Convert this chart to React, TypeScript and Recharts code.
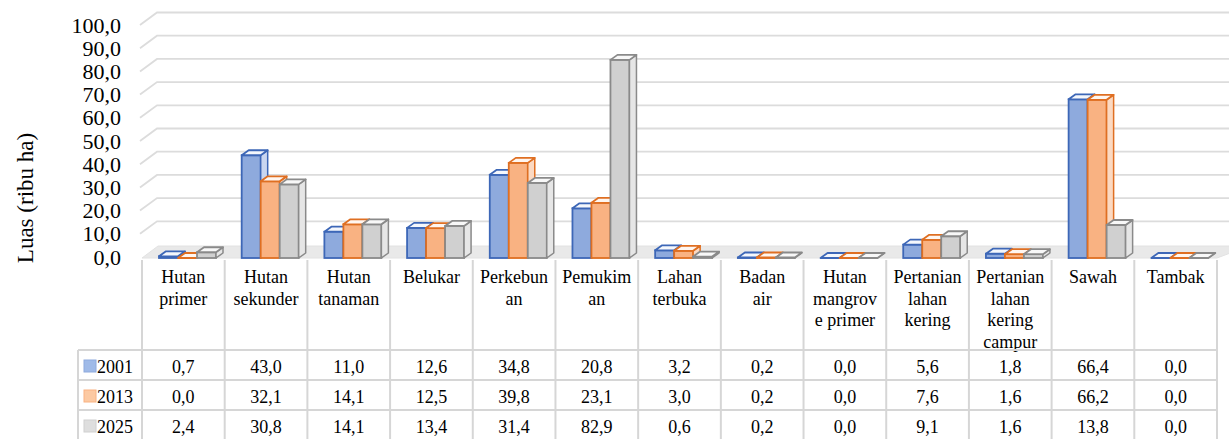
import React from 'react';
import { BarChart, Bar, XAxis, YAxis, CartesianGrid } from 'recharts';

const categories = [
  'Hutan primer', 'Hutan sekunder', 'Hutan tanaman', 'Belukar', 'Perkebunan', 'Pemukiman',
  'Lahan terbuka', 'Badan air', 'Hutan mangrove primer', 'Pertanian lahan kering',
  'Pertanian lahan kering campur', 'Sawah', 'Tambak',
];
const headerLines = [
  ['Hutan', 'primer'], ['Hutan', 'sekunder'], ['Hutan', 'tanaman'], ['Belukar'], ['Perkebun', 'an'],
  ['Pemukim', 'an'], ['Lahan', 'terbuka'], ['Badan', 'air'], ['Hutan', 'mangrov', 'e primer'],
  ['Pertanian', 'lahan', 'kering'], ['Pertanian', 'lahan', 'kering', 'campur'], ['Sawah'], ['Tambak'],
];
const years = ['2001', '2013', '2025'];
const values2001 = [0.7, 43.0, 11.0, 12.6, 34.8, 20.8, 3.2, 0.2, 0.0, 5.6, 1.8, 66.4, 0.0];
const values2013 = [0.0, 32.1, 14.1, 12.5, 39.8, 23.1, 3.0, 0.2, 0.0, 7.6, 1.6, 66.2, 0.0];
const values2025 = [2.4, 30.8, 14.1, 13.4, 31.4, 82.9, 0.6, 0.2, 0.0, 9.1, 1.6, 13.8, 0.0];
const yTicks = [0, 10, 20, 30, 40, 50, 60, 70, 80, 90, 100];

const data = categories.map((name, i) => ({
  name,
  y2001: values2001[i],
  y2013: values2013[i],
  y2025: values2025[i],
}));
const seriesValues = [values2001, values2013, values2025];

const W = 1229;
const H = 439;
const PLOT_LEFT = 142;
const PLOT_RIGHT = 1217;
const PLOT_TOP = 19;
const PLOT_BOTTOM = 258;
const BAND = (PLOT_RIGHT - PLOT_LEFT) / categories.length;
const FONT = '"Liberation Serif", "Times New Roman", Times, serif';
const GRID = '#dcdcdc';
const TABLE_LINE = '#d6d6d6';
const serif = { fontFamily: FONT };

const colors = [
  { fill: '#8eaadd', side: '#c9d6f0', top: '#f4f7fc', stroke: '#3d67b7', key: '#9fbae8' },
  { fill: '#f9b282', side: '#fbd9c2', top: '#fff6f0', stroke: '#df6f22', key: '#fcc9a2' },
  { fill: '#d0d0d0', side: '#e6e6e6', top: '#f8f8f8', stroke: '#8a8a8a', key: '#dedede' },
];

const fmt = (v: number) => v.toFixed(1).replace('.', ',');

const DX = 7;
const DY = 5;
const SHIFT = 4;

const makeBar = (c: typeof colors[0]) => (props: any) => {
  const { x, y, width, height } = props;
  if (x == null || y == null) return null;
  const bx = x + SHIFT;
  const h = Math.max(height, 0);
  return (
    <g>
      <rect x={bx} y={y} width={width} height={h} fill={c.fill} stroke={c.stroke} strokeWidth={1.8} />
      <polygon
        points={`${bx + width},${y} ${bx + width + DX},${y - DY} ${bx + width + DX},${y + h - DY} ${bx + width},${y + h}`}
        fill={c.side}
        stroke={c.stroke}
        strokeWidth={1.5}
        strokeLinejoin="round"
      />
      <polygon
        points={`${bx},${y} ${bx + DX},${y - DY} ${bx + width + DX},${y - DY} ${bx + width},${y}`}
        fill={c.top}
        stroke={c.stroke}
        strokeWidth={1.8}
        strokeLinejoin="round"
      />
    </g>
  );
};

const frac = (y: number) => (PLOT_BOTTOM - y) / (PLOT_BOTTOM - PLOT_TOP);
const labelY = (y: number) => 257 - frac(y) * 232;

const GridLine = (props: any) => {
  const { y1 } = props;
  const fy = labelY(y1);
  const by = fy - 12.5;
  const isFloor = Math.abs(y1 - PLOT_BOTTOM) < 1;
  return (
    <g>
      {isFloor && (
        <polygon
          points={`${PLOT_LEFT},${PLOT_BOTTOM} ${PLOT_LEFT + 16},${PLOT_BOTTOM - 12} ${W + 20},${PLOT_BOTTOM - 12} ${PLOT_RIGHT},${PLOT_BOTTOM}`}
          fill="#e9e9e9"
          stroke="#e2e2e2"
        />
      )}
      {!isFloor && (
        <polyline
          points={`${PLOT_LEFT - 2},${fy} ${PLOT_LEFT + 15},${by} ${W},${by}`}
          fill="none"
          stroke={GRID}
          strokeWidth={1.8}
        />
      )}
    </g>
  );
};

const YTick = (props: any) => {
  const { y, payload } = props;
  return (
    <text x={121} y={labelY(y)} textAnchor="end" dominantBaseline="central" style={{ ...serif, fontSize: 22 }} fill="#000">
      {fmt(payload.value)}
    </text>
  );
};

const TABLE_TOP = 260;
const HEADER_BOTTOM = 350;
const ROW_H = 30;
const ROW_LABEL_LEFT = 78;

const XTick = (props: any) => {
  const { x, payload } = props;
  const i = payload.index ?? categories.indexOf(payload.value);
  const left = x - BAND / 2;
  const right = x + BAND / 2;
  const lines = headerLines[i];
  const ts = { ...serif, fontSize: 18 };
  return (
    <g>
      <line x1={left} y1={TABLE_TOP} x2={left} y2={H} stroke={TABLE_LINE} strokeWidth={2} />
      {i === categories.length - 1 && (
        <line x1={right} y1={TABLE_TOP} x2={right} y2={H} stroke={TABLE_LINE} strokeWidth={2} />
      )}
      {lines.map((t, k) => (
        <text key={k} x={x} y={283 + k * 21.5} textAnchor="middle" style={ts} fill="#000">
          {t}
        </text>
      ))}
      {[0, 1, 2].map((r) => (
        <line key={`h${r}`} x1={left} x2={right} y1={HEADER_BOTTOM + r * ROW_H} y2={HEADER_BOTTOM + r * ROW_H} stroke={TABLE_LINE} strokeWidth={2} />
      ))}
      {seriesValues.map((vals, r) => (
        <text key={`v${r}`} x={x} y={HEADER_BOTTOM + r * ROW_H + 23} textAnchor="middle" style={ts} fill="#000">
          {fmt(vals[i])}
        </text>
      ))}
      {i === 0 && (
        <g>
          <line x1={ROW_LABEL_LEFT} y1={HEADER_BOTTOM} x2={ROW_LABEL_LEFT} y2={H} stroke={TABLE_LINE} strokeWidth={2} />
          {years.map((yr, r) => (
            <g key={yr}>
              <line x1={ROW_LABEL_LEFT} x2={left} y1={HEADER_BOTTOM + r * ROW_H} y2={HEADER_BOTTOM + r * ROW_H} stroke={TABLE_LINE} strokeWidth={2} />
              <rect x={84} y={HEADER_BOTTOM + r * ROW_H + 10} width={12} height={12} fill={colors[r].key} stroke={colors[r].fill} strokeWidth={1} />
              <text x={97} y={HEADER_BOTTOM + r * ROW_H + 23} textAnchor="start" style={ts} fill="#000">
                {yr}
              </text>
            </g>
          ))}
        </g>
      )}
    </g>
  );
};

export default function App() {
  return (
    <div style={{ position: 'absolute', left: 0, top: 0, width: W, height: H, background: '#fff' }}>
      <BarChart
        width={W}
        height={H}
        data={data}
        margin={{ top: PLOT_TOP, right: W - PLOT_RIGHT, bottom: 0, left: PLOT_LEFT - 100 }}
        barGap={0}
        barSize={19}
      >
        <CartesianGrid vertical={false} horizontal={(p: any) => <GridLine key={p.key ?? p.y1} {...p} />} />
        <XAxis
          dataKey="name"
          interval={0}
          axisLine={false}
          tickLine={false}
          height={H - PLOT_BOTTOM}
          tick={<XTick />}
        />
        <YAxis
          domain={[0, 100]}
          ticks={yTicks}
          width={100}
          axisLine={false}
          tickLine={false}
          tick={<YTick />}
        />
        <Bar dataKey="y2001" isAnimationActive={false} shape={makeBar(colors[0])} />
        <Bar dataKey="y2013" isAnimationActive={false} shape={makeBar(colors[1])} />
        <Bar dataKey="y2025" isAnimationActive={false} shape={makeBar(colors[2])} />
        <text
          x={33}
          y={198}
          transform="rotate(-90 33 198)"
          textAnchor="middle"
          style={{ ...serif, fontSize: 23 }}
          fill="#000"
        >
          Luas (ribu ha)
        </text>
      </BarChart>
    </div>
  );
}
